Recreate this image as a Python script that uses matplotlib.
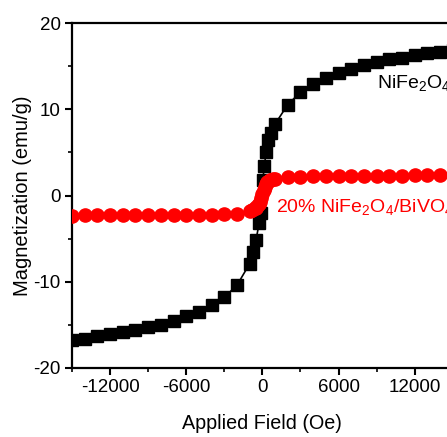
import matplotlib
matplotlib.use("Agg")
import matplotlib.pyplot as plt
from matplotlib.ticker import MultipleLocator

plt.rcParams["font.family"] = ["Liberation Sans", "DejaVu Sans"]
plt.rcParams["mathtext.fontset"] = "custom"
plt.rcParams["mathtext.rm"] = "Liberation Sans"
plt.rcParams["mathtext.it"] = "Liberation Sans"
plt.rcParams["axes.unicode_minus"] = False

# NiFe2O4 (black squares)
nife_field = [-15000, -14000, -13000, -12000, -11000, -10000, -9000, -8000,
              -7000, -6000, -5000, -4000, -3000, -2000, -1000, -750, -500,
              -250, -100, 30, 160, 290, 420, 690, 1000, 2000, 3000, 4000,
              5000, 6000, 7000, 8000, 9000, 10000, 11000, 12000, 13000,
              14000, 15000]
nife_mag = [-16.8, -16.6, -16.3, -16.1, -15.8, -15.6, -15.3, -15.0, -14.6,
            -14.0, -13.5, -12.75, -11.8, -10.4, -7.9, -6.6, -5.1, -3.2, -2.0,
            1.85, 3.4, 5.1, 6.5, 7.3, 8.3, 10.55, 12.0, 12.9, 13.6, 14.2,
            14.7, 15.1, 15.5, 15.8, 16.0, 16.35, 16.5, 16.7, 16.85]

# 20% NiFe2O4/BiVO4 (red circles)
comp_field = [-15000, -14000, -13000, -12000, -11000, -10000, -9000, -8000,
              -7000, -6000, -5000, -4000, -3000, -2000, -1000, -800, -600,
              -500, -400, -300, -200, -100, 0, 100, 200, 300, 400, 500, 600,
              800, 1000, 2000, 3000, 4000, 5000, 6000, 7000, 8000, 9000,
              10000, 11000, 12000, 13000, 14000, 15000]
comp_mag = [-2.32, -2.31, -2.3, -2.3, -2.29, -2.28, -2.27, -2.26, -2.25,
            -2.24, -2.22, -2.2, -2.17, -2.1, -1.8, -1.65, -1.5, -1.4, -1.25,
            -1.0, -0.7, -0.3, 0.2, 0.6, 1.0, 1.3, 1.55, 1.7, 1.8, 1.88,
            1.95, 2.12, 2.2, 2.24, 2.26, 2.28, 2.29, 2.3, 2.31, 2.32, 2.32,
            2.33, 2.34, 2.35, 2.36]

fig = plt.figure(figsize=(4.47, 4.37), dpi=100)
ax = fig.add_axes([0.161, 0.158, 0.852, 0.789])

ax.plot(nife_field, nife_mag, color="black", lw=1.2, marker="s", ms=8.2,
        mec="black", mfc="black", zorder=2)
ax.plot(comp_field, comp_mag, color="red", lw=1.2, marker="o", ms=9.5,
        mec="red", mfc="red", zorder=3)

ax.set_xlim(-15000, 15000)
ax.set_ylim(-20, 20)
ax.xaxis.set_major_locator(MultipleLocator(6000))
ax.xaxis.set_minor_locator(MultipleLocator(3000))
ax.yaxis.set_major_locator(MultipleLocator(10))
ax.yaxis.set_minor_locator(MultipleLocator(5))
ax.tick_params(which="major", direction="out", length=5, width=1.5,
               labelsize=13.5, pad=3)
ax.tick_params(which="minor", direction="out", length=3, width=1.2)
for s in ax.spines.values():
    s.set_linewidth(1.6)

ax.set_xlabel("Applied Field (Oe)", fontsize=14.2, labelpad=13)
ax.set_ylabel("Magnetization (emu/g)", fontsize=14.5, labelpad=1)

ax.text(9000, 13.1, "NiFe$_2$O$_4$", fontsize=14, color="black",
        ha="left", va="center")
ax.text(1050, -1.3, "20% NiFe$_2$O$_4$/BiVO$_4$", fontsize=14, color="red",
        ha="left", va="center")

fig.savefig("out.png", dpi=100)
